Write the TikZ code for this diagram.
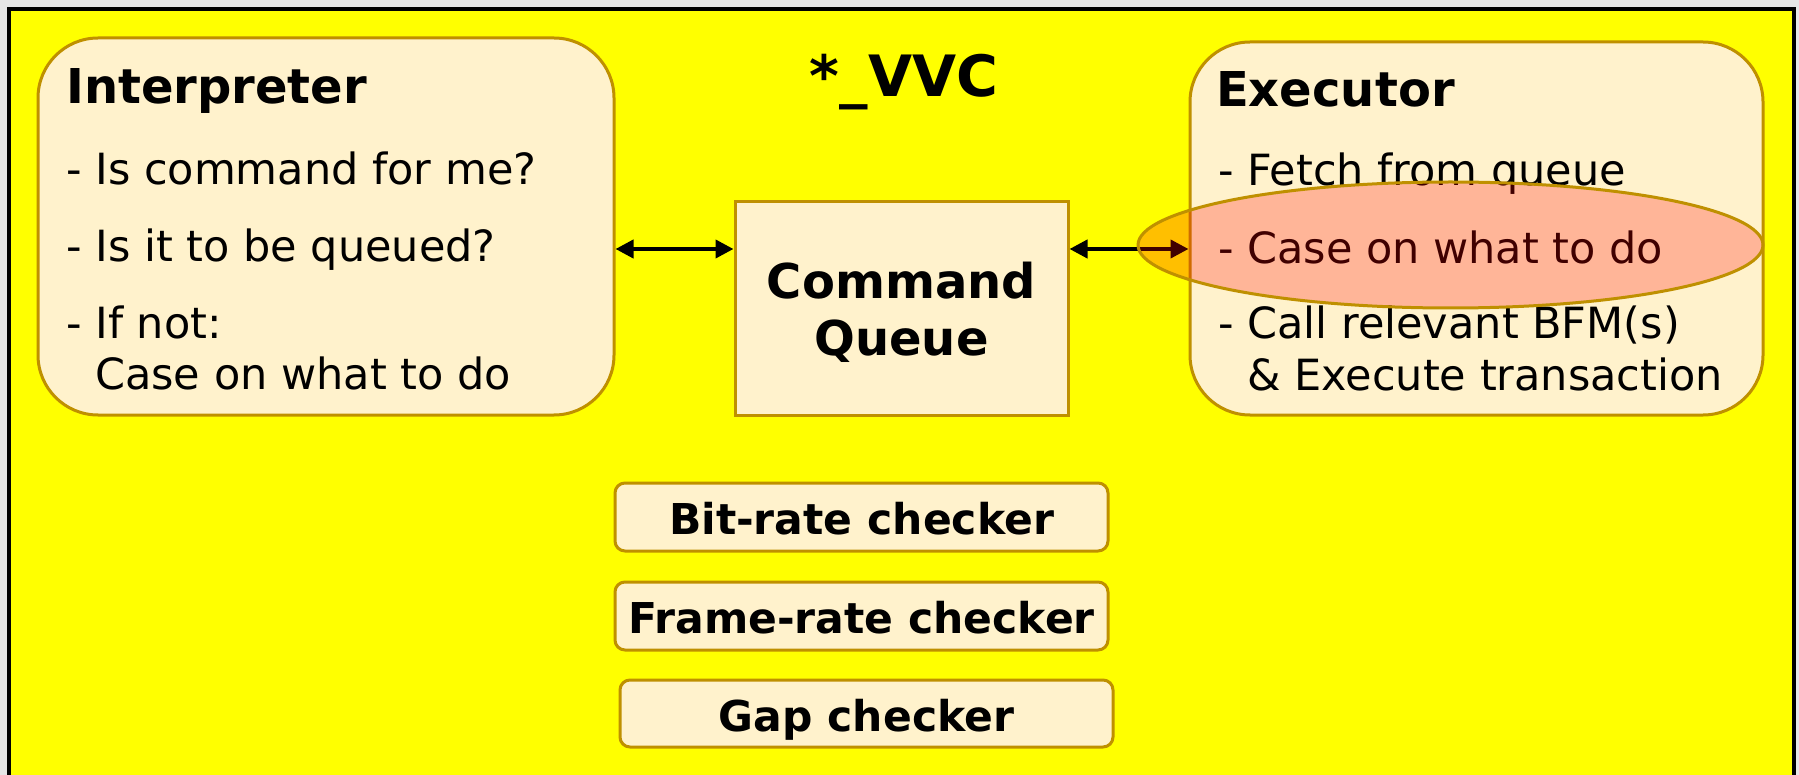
\documentclass[tikz,border=0pt]{standalone}
\usepackage{fontspec}
\setmainfont{DejaVu Sans}
\usetikzlibrary{arrows.meta,shapes.geometric}

\definecolor{panelyellow}{HTML}{FFFF00}
\definecolor{boxfill}{HTML}{FFF2CC}
\definecolor{boxline}{HTML}{BF9000}
\definecolor{pagegray}{HTML}{E6E6E6}

\begin{document}
\begin{tikzpicture}[x=1pt,y=-1pt,
  blk/.style={draw=boxline, line width=3pt, fill=boxfill, inner sep=0pt},
  bigblk/.style={blk, rounded corners=60pt},
  chk/.style={blk, rounded corners=10pt, minimum height=68pt,
    font=\bfseries\fontsize{42.5}{51}\selectfont, text height=35pt, text depth=0pt},
  head/.style={anchor=base west, inner sep=0pt, font=\bfseries\fontsize{48}{58}\selectfont},
  body/.style={anchor=base west, inner sep=0pt, font=\fontsize{43}{52}\selectfont},
  conn/.style={line width=4pt,
    {Triangle[length=18pt,width=18pt]}-{Triangle[length=18pt,width=18pt]}},
  focus/.style={ellipse, draw=boxline, line width=3pt, fill=red,
    fill opacity=0.25, inner sep=0pt}]

% page and panel
\fill[pagegray] (0,0) rectangle (1799,775);
\useasboundingbox (0,0) rectangle (1799,775);
\draw[line width=3.5pt, fill=panelyellow] (9,9) rectangle (1794,800);

% title
\node[anchor=base, inner sep=0pt, font=\bfseries\fontsize{57}{68}\selectfont]
  (title) at (904,97) {*\_VVC};

% main blocks
\node[bigblk, minimum width=576pt, minimum height=377pt] (interp) at (326,226.5) {};
\node[bigblk, minimum width=573pt, minimum height=373pt] (exec) at (1476.5,228.5) {};
\node[blk, minimum width=333pt, minimum height=213pt] (cq) at (901.5,308.5) {};
% base anchor of a two-line node sits on the last line
\node[anchor=base, align=center, inner sep=0pt,
  font=\bfseries\fontsize{48}{58}\selectfont] (cqtext) at (901.5,356)
  {Command\\Queue};

% interpreter text
\node[head] (interphead) at (66,104) {Interpreter};
\node[body] (i1) at (66,185) {- Is command for me?};
\node[body] (i2) at (66,262) {- Is it to be queued?};
\node[body] (i3) at (66,339) {- If not:};
\node[body] (i4) at (95,389) {Case on what to do};

% executor text
\node[head] (exechead) at (1216,107) {Executor};
\node[body] (e1) at (1218,186) {- Fetch from queue};
\node[body] (e2) at (1218,264) {- Case on what to do};
\node[body] (e3) at (1218,339) {- Call relevant BFM(s)};
\node[body] (e4) at (1247,391) {\& Execute transaction};

% checkers
\node[chk, minimum width=493pt] (bitrate) at (861.5,517) {Bit-rate checker};
\node[chk, minimum width=493pt] (framerate) at (861.5,616) {Frame-rate checker};
\node[chk, minimum width=493pt, minimum height=67pt] (gap) at (866.5,713.5) {Gap checker};

% connectors
\coordinate (arrowrow) at (0,249);
\draw[conn] (interp.east |- arrowrow) -- (cq.west |- arrowrow);
\draw[conn] (cq.east |- arrowrow) -- (exec.west |- arrowrow);

% highlight
\node[focus, minimum width=625pt, minimum height=126pt] (hl) at (1450.5,245) {};
\end{tikzpicture}
\end{document}
